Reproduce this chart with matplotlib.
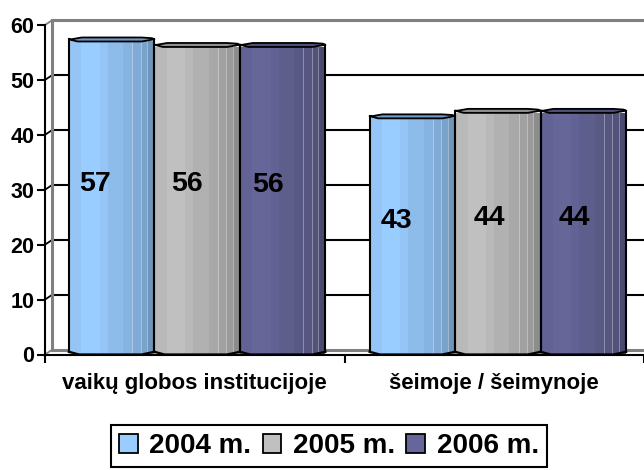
import matplotlib
matplotlib.use("Agg")
import matplotlib.pyplot as plt
from matplotlib.patches import Patch

plt.rcParams['font.family'] = ['Liberation Sans', 'DejaVu Sans']
plt.rcParams['font.weight'] = 'bold'

categories = ["vaikų globos institucijoje", "šeimoje / šeimynoje"]
series_names = ["2004 m.", "2005 m.", "2006 m."]
values_2004 = [57, 43]
values_2005 = [56, 44]
values_2006 = [56, 44]
y_ticks = [0, 10, 20, 30, 40, 50, 60]

series = [values_2004, values_2005, values_2006]
base_colors = ["#99ccff", "#c0c0c0", "#666699"]
top_colors = ["#6f9ac8", "#8f8f8f", "#4f4f7c"]

W, H = 644, 470
fig = plt.figure(figsize=(W / 100, H / 100), dpi=100, facecolor="white")
L, R, B, T = 45, 644, 354.5, 25
ax = fig.add_axes([L / W, 1 - B / H, (R - L) / W, (B - T) / H])
ax.set_xlim(-0.5, 1.5)
ax.set_ylim(0, 60)
ax.set_facecolor("none")

px_x = 2.0 / (R - L)
px_y = 60 / (B - T)
dx, dy = 7 * px_x, 4.7 * px_y

# back wall
for v in y_ticks:
    col, lw, z = ("#808080", 2.2, 1) if v in (0, 60) else ("black", 1.5, 1)
    ax.plot([-0.5 + dx, 1.5], [v + dy, v + dy], color=col, lw=lw, zorder=z, clip_on=False,
            solid_capstyle="butt")
    ax.plot([-0.5, -0.5 + dx], [v, v + dy], color="#808080" if v in (0, 60) else "black",
            lw=1.3, zorder=z, clip_on=False)
ax.plot([-0.5 + dx] * 2, [dy, 60 + dy], color="#808080", lw=2.2, zorder=1, clip_on=False)

# cylinders
strip_edges = [0, .147, .358, .454, .635, .742, .838, .915, 1]
strip_shades = [.965, 1, .965, .92, .875, .84, .80, .73]
line_pos = [.742, .838, .915]
bar_w = 85.5 * px_x
group_off = [-bar_w, 0, bar_w]
centres = [0.008, 1.012]


def shade(hex_color, f):
    r, g, b = matplotlib.colors.to_rgb(hex_color)
    return (r * f, g * f, b * f)


for s, vals in enumerate(series):
    for c, v in enumerate(vals):
        x0 = centres[c] + group_off[s] - bar_w / 2
        for i, f in enumerate(strip_shades):
            a, b = strip_edges[i], strip_edges[i + 1]
            ax.bar(x0 + a * bar_w, v, width=(b - a) * bar_w, align="edge",
                   color=shade(base_colors[s], f), lw=0, zorder=3)
        for p in line_pos:
            ax.plot([x0 + p * bar_w] * 2, [0.3, v], color="white", alpha=.35, lw=.7, zorder=4)
        # outline sides
        ax.plot([x0, x0], [0.5, v + .4], color="black", lw=1.5, zorder=6)
        ax.plot([x0 + bar_w] * 2, [0.5, v + .4], color="black", lw=1.5, zorder=6)
        # top cap
        tx = [x0, x0 + .03 * bar_w, x0 + .15 * bar_w, x0 + .85 * bar_w, x0 + .97 * bar_w, x0 + bar_w,
              x0 + .85 * bar_w, x0 + .1 * bar_w, x0]
        ty = [v + .4, v + .4, v + 1 * dy * .85, v + 1 * dy * .85, v + .6, v + .4, v, v, v + .4]
        ax.fill(tx, ty, facecolor=top_colors[s], edgecolor="black", lw=1.3, zorder=7,
                joinstyle="round", clip_on=False)
        # bottom edge
        ax.plot([x0, x0 + .12 * bar_w, x0 + .85 * bar_w, x0 + bar_w], [.5, 0, 0, .5], color="black",
                lw=1.6, zorder=7, clip_on=False)

# data labels
label_dx = [[-17, -10, -15], [-16, -8, -9]]
label_dy = [[2.6, 2.8], [3.1, 2.8], [2.8, 2.8]]
for s, vals in enumerate(series):
    for c, v in enumerate(vals):
        ax.text(centres[c] + group_off[s] + label_dx[c][s] * px_x, v / 2 + label_dy[s][c], str(v),
                ha="center", va="center", fontsize=20.5, fontweight="bold", color="black", zorder=9)

# axes
for n in ("top", "right"):
    ax.spines[n].set_visible(False)
for n in ("left", "bottom"):
    ax.spines[n].set_linewidth(1.5)
    ax.spines[n].set_zorder(8)
ax.set_yticks(y_ticks)
ax.set_yticklabels([str(v) for v in y_ticks], fontsize=15.5, fontweight="bold")
ax.tick_params(axis="y", length=6, width=1.5, pad=1.5)
ax.set_xticks([-0.5, 0.5, 1.5])
ax.set_xticklabels([])
ax.tick_params(axis="x", length=5.5, width=1.5)
for c, name in enumerate(categories):
    ax.annotate(name, xy=(c, 0), xycoords=("data", "axes fraction"), xytext=(0, -21),
                textcoords="offset points", ha="center", va="center", fontsize=16, fontweight="bold")

handles = [Patch(facecolor=base_colors[i], edgecolor="black", lw=1.3) for i in range(3)]
fig.legend(handles, series_names, loc="center", bbox_to_anchor=(329 / W, 1 - 446 / H), ncol=3,
           fancybox=False, framealpha=1, edgecolor="black", fontsize=20,
           handlelength=.68, handleheight=.68, handletextpad=.42, columnspacing=.4,
           borderpad=.28, borderaxespad=0).get_frame().set_linewidth(1.5)

fig.savefig("out.png", dpi=100)
